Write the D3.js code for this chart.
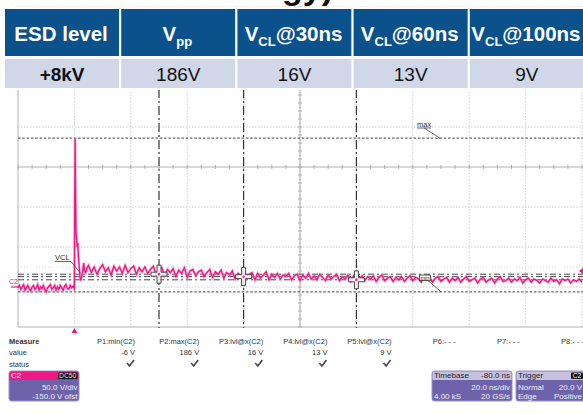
<!DOCTYPE html>
<html><head><meta charset="utf-8">
<script src="https://cdn.jsdelivr.net/npm/d3@7"></script>
<style>html,body{margin:0;padding:0;background:#fff;overflow:hidden}svg{display:block;font-family:"Liberation Sans",Arial,sans-serif}</style>
</head><body>
<svg id="c" width="583" height="414"></svg>
<script>
// ---------- data ----------
const titleTail = "Energy)";
const headMain = ["ESD level", "V", "V", "V", "V"];
const headSub  = ["", "pp", "CL", "CL", "CL"];
const headTail = ["", "", "@30ns", "@60ns", "@100ns"];
const rowVals  = ["+8kV", "186V", "16V", "13V", "9V"];

// scope trace (time ns, volts)
const preT0 = -20, preStep = 0.5;
const preVolts = [-1,2,-3,0,3,-4,-1,2,-2,-5,0,2,-3,-1,3,-4,0,-2,2,-3,-6,-1,1,3,-3,-1,2,-4,0,-3,2,-1,-4,1,3,-2,-3,2,-1,1,-2];
const pulseT = [0,0.1,0.25,0.4,0.55,0.8,1.0,1.2,1.4,1.7,2.0,2.3,2.7,3.0,3.3,3.6,4.0,4.5];
const pulseV = [-2,100,186,120,70,60,50,55,40,25,12,8,15,22,30,20,18,24];
const postT0 = 5, postStep = 1;
const postVolts = [
 27,18,25,16,23,28,19,24,15,26,
 20,25,17,27,18,23,26,16,24,19,
 25,17,22,26,15,21,24,14,22,18,
 23,13,21,17,24,12,20,22,14,19,
 21,13,18,22,12,19,16,21,11,18,
 15,20,10,17,14,19,11,16,18,9,
 17,11,15,19,9,16,12,17,10,15,
 13,17,9,14,16,8,15,11,17,10,
 14,9,16,12,8,15,10,13,16,8,
 13,10,15,7,14,11,9,14,8,13,
 10,14,7,12,15,8,11,13,7,12,
 9,13,7,11,14,8,12,10,6,13,
 9,12,6,11,13,7,10,12,6,11,
 8,12,6,10,13,7,9,11,5,10,
 12,6,9,11,5,10,13,7,8,11,
 6,10,8,12,5,9,11,6,10,8,
 5,10,8,6,11,7,9,4,10,8,
 10,5,9,7,10,6];
const cursorTimes = [30, 60, 100];
const cursorVolts = [16, 13, 9];
const maxVolt = 186, minVolt = -6, trigLevel = 20, faintLevel = 25;

// measure panel
const measNames = ["P1:min(C2)","P2:max(C2)","P3:lvl@x(C2)","P4:lvl@x(C2)","P5:lvl@x(C2)","P6:- - -","P7:- - -","P8:- - -"];
const measVals  = ["-6 V","186 V","16 V","13 V","9 V","","",""];
const measOk    = [true,true,true,true,true,false,false,false];
const chanInfo  = ["C2","DC50","50.0 V/div","-150.0 V ofst"];
const tbInfo    = ["Timebase","-80.0 ns","20.0 ns/div","4.00 kS","20 GS/s"];
const trgInfo   = ["Trigger","C2","Normal","20.0 V","Edge","Positive"];

// ---------- drawing ----------
const svg = d3.select("#c");
const pink = "#EE1783";

const x = d3.scaleLinear().domain([-20, 180]).range([18, 582]);
const y = d3.scaleLinear().domain([-50, 350]).range([327, 7]);

const scope = svg.append("g");
// grid
const gx = x.ticks(10), gy = y.ticks(8);
scope.selectAll(".vg").data(gx).join("line")
  .attr("x1", d => x(d)).attr("x2", d => x(d)).attr("y1", 89).attr("y2", 327)
  .attr("stroke", d => d === -20 ? "#b0b0b0" : "#cfcfcf")
  .attr("stroke-dasharray", d => d === -20 ? null : "1.5,1.5");
scope.selectAll(".hg").data(gy.filter(v => v > -50 && v !== 150)).join("line")
  .attr("x1", 18).attr("x2", 583).attr("y1", d => y(d)).attr("y2", d => y(d))
  .attr("stroke", "#cfcfcf").attr("stroke-dasharray", "1.5,1.5");
scope.append("line").attr("x1", 18).attr("x2", 583).attr("y1", y(-50)).attr("y2", y(-50)).attr("stroke", "#b0b0b0");
scope.append("line").attr("x1", 18).attr("x2", 583).attr("y1", y(faintLevel)).attr("y2", y(faintLevel))
  .attr("stroke", "#d6d6d6").attr("stroke-dasharray", "1,2");
// centre axes with minor ticks
scope.append("line").attr("x1", 18).attr("x2", 583).attr("y1", y(150)).attr("y2", y(150)).attr("stroke", "#b0b0b0");
scope.append("line").attr("x1", x(80)).attr("x2", x(80)).attr("y1", 89).attr("y2", 327).attr("stroke", "#b0b0b0");
scope.selectAll(".tx").data(x.ticks(50)).join("line")
  .attr("x1", d => x(d)).attr("x2", d => x(d)).attr("y1", y(150) - 2).attr("y2", y(150) + 2).attr("stroke", "#b0b0b0");
scope.selectAll(".ty").data(y.ticks(40)).join("line")
  .attr("x1", x(80) - 2).attr("x2", x(80) + 2).attr("y1", d => y(d)).attr("y2", d => y(d)).attr("stroke", "#b0b0b0");

// max / min dotted lines
[maxVolt, minVolt].forEach(v => scope.append("line")
  .attr("x1", 18).attr("x2", 583).attr("y1", y(v)).attr("y2", y(v))
  .attr("stroke", "#666").attr("stroke-width", 1.3).attr("stroke-dasharray", "2.5,1.8"));

// horizontal level cursors
scope.selectAll(".hc").data(cursorVolts).join("line")
  .attr("x1", 18).attr("x2", 583).attr("y1", d => y(d)).attr("y2", d => y(d))
  .attr("stroke", "#444").attr("stroke-width", 1).attr("stroke-dasharray", "6,3,2,3");

// trace
const pts = [];
preVolts.forEach((v, i) => pts.push([preT0 + i * preStep, v]));
pulseT.forEach((t, i) => pts.push([t, pulseV[i]]));
postVolts.forEach((v, i) => pts.push([postT0 + i * postStep, v]));
const line = d3.line().x(d => x(d[0])).y(d => y(d[1]));
scope.append("path").attr("d", line(pts)).attr("fill", "none").attr("stroke", "#F58CC0").attr("stroke-width", 2.6).attr("opacity", 0.7);
scope.append("path").attr("d", line(pts)).attr("fill", "none").attr("stroke", pink).attr("stroke-width", 1.3);

// vertical time cursors
scope.selectAll(".vc").data(cursorTimes).join("line")
  .attr("x1", d => x(d)).attr("x2", d => x(d)).attr("y1", 89).attr("y2", 328)
  .attr("stroke", "#333").attr("stroke-width", 1.2).attr("stroke-dasharray", "9,3,2,3");

// crosshair markers
cursorTimes.forEach((t, i) => {
  const cx = x(t), cy = y(cursorVolts[i]);
  const a = 2, h = 9, w = 8;
  const p = `M${cx-a},${cy-h}H${cx+a}V${cy-a}H${cx+w}V${cy+a}H${cx+a}V${cy+h}H${cx-a}V${cy+a}H${cx-w}V${cy-a}H${cx-a}Z`;
  scope.append("path").attr("d", p).attr("fill", "#fff").attr("fill-opacity", 0.85).attr("stroke", "#444").attr("stroke-width", 1);
  scope.append("circle").attr("cx", cx).attr("cy", cy).attr("r", 1.2).attr("fill", pink);
});

// annotations
const small = 7.5;
scope.append("text").attr("x", 55).attr("y", 260).attr("font-size", small).attr("fill", "#333").text("VCL");
scope.append("path").attr("d", `M55,261.5H71L${x(2)},${y(18)}`).attr("fill", "none").attr("stroke", "#444").attr("stroke-width", 0.8);
scope.append("text").attr("x", 417).attr("y", 126.5).attr("font-size", small).attr("fill", "#333").text("max");
scope.append("path").attr("d", `M417,128H431M424,128L440,${y(maxVolt)}`).attr("fill", "none").attr("stroke", "#444").attr("stroke-width", 0.8);
scope.append("rect").attr("x", 419.5).attr("y", 275).attr("width", 11).attr("height", 5.5).attr("fill", "#fff").attr("stroke", "#333").attr("stroke-width", 0.8);
scope.append("text").attr("x", 420.5).attr("y", 279.7).attr("font-size", 5.5).attr("fill", "#222").text("min");
scope.append("line").attr("x1", 428).attr("y1", 280.5).attr("x2", 441).attr("y2", y(minVolt)).attr("stroke", "#444").attr("stroke-width", 0.8);
// channel label & trigger markers
scope.append("text").attr("x", 9).attr("y", y(0) - 3.5).attr("font-size", 7).attr("fill", pink).text("C2");
scope.append("line").attr("x1", 11).attr("x2", 18).attr("y1", y(0)).attr("y2", y(0)).attr("stroke", pink).attr("stroke-width", 1.2);
scope.append("path").attr("d", `M${x(0)},328L${x(0)+3},333H${x(0)-3}Z`).attr("fill", pink);
scope.append("path").attr("d", `M579,${y(trigLevel)}L583,${y(trigLevel)-3}V${y(trigLevel)+3}Z`).attr("fill", pink);

// ---------- top table ----------
svg.append("text").attr("x", 333).attr("y", -1.5).attr("text-anchor", "end")
  .attr("font-size", 34).attr("font-weight", "bold").attr("fill", "#111").text(titleTail);

const col = d3.scaleBand().domain(d3.range(headMain.length)).range([4, 585]);
const tbl = svg.append("g");
tbl.selectAll(".h").data(headMain).join("rect")
  .attr("x", (d, i) => col(i)).attr("y", 8).attr("width", col.bandwidth()).attr("height", 49)
  .attr("fill", "#0B518C").attr("stroke", "#fff").attr("stroke-width", 2);
tbl.selectAll(".r").data(rowVals).join("rect")
  .attr("x", (d, i) => col(i)).attr("y", 58).attr("width", col.bandwidth()).attr("height", 31)
  .attr("fill", "#D0D7E8").attr("stroke", "#fff").attr("stroke-width", 2);
headMain.forEach((m, i) => {
  const t = tbl.append("text").attr("x", col(i) + col.bandwidth() / 2 - 1).attr("y", 41)
    .attr("text-anchor", "middle").attr("fill", "#fff").attr("font-weight", "bold").attr("font-size", 20.5);
  t.append("tspan").text(m);
  if (headSub[i]) t.append("tspan").attr("font-size", 13).attr("dy", 5).text(headSub[i]);
  if (headTail[i]) t.append("tspan").attr("dy", -5).text(headTail[i]);
});
rowVals.forEach((v, i) => {
  tbl.append("text").attr("x", col(i) + col.bandwidth() / 2).attr("y", 81)
    .attr("text-anchor", "middle").attr("fill", "#111").attr("font-size", 19)
    .attr("font-weight", i === 0 ? "bold" : "normal").text(v);
});

// ---------- measure panel ----------
const mp = svg.append("g").attr("font-size", 7.5).attr("fill", "#333");
mp.append("text").attr("x", 9).attr("y", 344).attr("font-weight", "bold").text("Measure");
mp.append("text").attr("x", 9).attr("y", 355).text("value");
mp.append("text").attr("x", 9).attr("y", 366.5).text("status");
const mx = d3.scaleLinear().domain([0, 7]).range([135, 584]);
measNames.forEach((n, i) => {
  mp.append("text").attr("x", mx(i)).attr("y", 344).attr("text-anchor", "end").text(n);
  if (measVals[i]) mp.append("text").attr("x", mx(i)).attr("y", 355).attr("text-anchor", "end").text(measVals[i]);
  if (measOk[i]) {
    const cx = mx(i) - 4;
    mp.append("path").attr("d", `M${cx-4},${363}L${cx-1.5},${366}L${cx+3},${360}`)
      .attr("fill", "none").attr("stroke", "#444").attr("stroke-width", 1.6);
  }
});

function infoBox(x0, w, headFill) {
  const g = svg.append("g");
  g.append("rect").attr("x", x0).attr("y", 371).attr("width", w).attr("height", 30).attr("rx", 2.5)
    .attr("fill", "#6E63AA").attr("stroke", "#9b92cc").attr("stroke-width", 1);
  g.append("path").attr("d", `M${x0+0.5},380V373.5Q${x0+0.5},371.5 ${x0+2.5},371.5H${x0+w-2.5}Q${x0+w-0.5},371.5 ${x0+w-0.5},373.5V380Z`).attr("fill", headFill);
  return g;
}
const fs = 8;
const cb = infoBox(9, 70, pink);
cb.append("text").attr("x", 11).attr("y", 378.3).attr("font-size", fs).attr("fill", "#fff").text(chanInfo[0]);
cb.append("rect").attr("x", 58).attr("y", 372.5).attr("width", 19.5).attr("height", 6.5).attr("rx", 1).attr("fill", "#111");
cb.append("text").attr("x", 67.7).attr("y", 378.3).attr("text-anchor", "middle").attr("font-size", 6.8).attr("fill", "#ffd6ea").text(chanInfo[1]);
cb.append("text").attr("x", 77.5).attr("y", 389.5).attr("text-anchor", "end").attr("font-size", fs).attr("fill", "#eeeefa").text(chanInfo[2]);
cb.append("text").attr("x", 77.5).attr("y", 398.5).attr("text-anchor", "end").attr("font-size", fs).attr("fill", "#eeeefa").text(chanInfo[3]);

const tb = infoBox(432, 80, "#C6C1DD");
tb.append("text").attr("x", 434).attr("y", 378.3).attr("font-size", fs).attr("fill", "#222").text(tbInfo[0]);
tb.append("text").attr("x", 510).attr("y", 378.3).attr("text-anchor", "end").attr("font-size", fs).attr("fill", "#222").text(tbInfo[1]);
tb.append("text").attr("x", 510).attr("y", 389.5).attr("text-anchor", "end").attr("font-size", fs).attr("fill", "#eeeefa").text(tbInfo[2]);
tb.append("text").attr("x", 434).attr("y", 398.5).attr("font-size", fs).attr("fill", "#eeeefa").text(tbInfo[3]);
tb.append("text").attr("x", 510).attr("y", 398.5).attr("text-anchor", "end").attr("font-size", fs).attr("fill", "#eeeefa").text(tbInfo[4]);

const tg = infoBox(516, 75, "#C6C1DD");
tg.append("text").attr("x", 518).attr("y", 378.3).attr("font-size", fs).attr("fill", "#222").text(trgInfo[0]);
tg.append("rect").attr("x", 571).attr("y", 372.5).attr("width", 12).attr("height", 6.5).attr("rx", 1).attr("fill", "#111");
tg.append("text").attr("x", 577).attr("y", 378.3).attr("text-anchor", "middle").attr("font-size", 6.8).attr("fill", "#fff").text(trgInfo[1]);
tg.append("text").attr("x", 518).attr("y", 389.5).attr("font-size", fs).attr("fill", "#eeeefa").text(trgInfo[2]);
tg.append("text").attr("x", 582).attr("y", 389.5).attr("text-anchor", "end").attr("font-size", fs).attr("fill", "#eeeefa").text(trgInfo[3]);
tg.append("text").attr("x", 582).attr("y", 398.5).attr("text-anchor", "end").attr("font-size", fs).attr("fill", "#eeeefa").text(trgInfo[5]);
tg.append("text").attr("x", 518).attr("y", 398.5).attr("font-size", fs).attr("fill", "#eeeefa").text(trgInfo[4]);
</script>
</body></html>
